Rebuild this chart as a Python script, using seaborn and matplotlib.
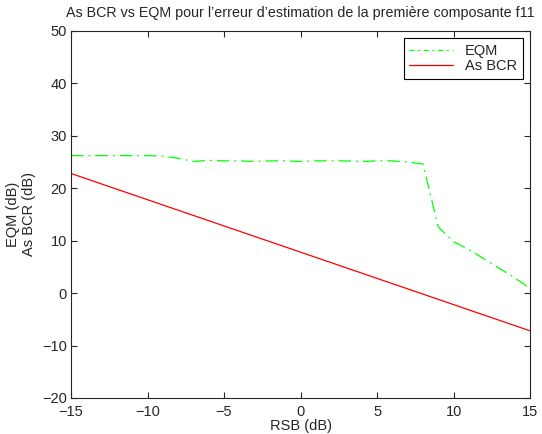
import numpy as np
import pandas as pd
import seaborn as sns
import matplotlib
matplotlib.use("Agg")
import matplotlib.pyplot as plt

rsb = list(range(-15, 16))
eqm = [26.2, 26.2, 26.2, 26.2, 26.2, 26.2, 26.1, 25.7, 25.1, 25.3, 25.2, 25.2, 25.1, 25.2, 25.2,
       25.1, 25.2, 25.2, 25.2, 25.1, 25.2, 25.2, 25.0, 24.6, 12.6, 9.8, 8.3, 6.5, 4.7, 2.9, 0.9]
bcr = [22.8, 21.8, 20.8, 19.8, 18.8, 17.8, 16.8, 15.8, 14.8, 13.8, 12.8, 11.8, 10.8, 9.8, 8.8,
       7.8, 6.8, 5.8, 4.8, 3.8, 2.8, 1.8, 0.8, -0.2, -1.2, -2.2, -3.2, -4.2, -5.2, -6.2, -7.2]

sns.set_style("ticks")
plt.rcParams['font.family'] = ['Liberation Sans', 'DejaVu Sans']

df = pd.DataFrame({'RSB': rsb + rsb,
                   'val': eqm + bcr,
                   'courbe': ['EQM'] * len(rsb) + ['As BCR'] * len(rsb)})

fig = plt.figure(figsize=(5.42, 4.34), dpi=100)
ax = fig.add_axes([0.131, 0.083, 0.847, 0.846])

sns.lineplot(data=df[df.courbe == 'EQM'], x='RSB', y='val', color='#00ff00', lw=0.9,
             dashes=False, ax=ax, label='EQM').lines[0].set_dashes((10, 4, 1.5, 4))
sns.lineplot(data=df[df.courbe == 'As BCR'], x='RSB', y='val', color='red', lw=0.9,
             label='As BCR', ax=ax)

ax.set_xlim(-15, 15)
ax.set_ylim(-20, 50)
ax.set_xticks(range(-15, 16, 5))
ax.set_yticks(range(-20, 51, 10))
ax.tick_params(direction='in', top=True, right=True, labelsize=10.5, length=4, width=0.8)
ax.tick_params(axis='x', pad=5)
ax.tick_params(axis='y', pad=3)
for s in ax.spines.values():
    s.set_linewidth(0.8)
ax.set_xlabel('RSB (dB)', fontsize=10.5, labelpad=0)
ax.set_ylabel('EQM (dB)\nAs BCR (dB)', fontsize=10.5, labelpad=4)
ax.set_title("As BCR vs EQM pour l\u2019erreur d\u2019estimation de la premi\u00e8re composante f11",
             fontsize=10.3, pad=10)
leg = ax.legend(loc='upper right', fontsize=10.5, fancybox=False, edgecolor='black',
                framealpha=1, handlelength=3, borderaxespad=0.5, labelspacing=0.05)
leg.get_frame().set_linewidth(0.8)
leg.get_lines()[0].set_dashes((4, 3, 1.5, 3))

fig.savefig('out.png', dpi=100)
